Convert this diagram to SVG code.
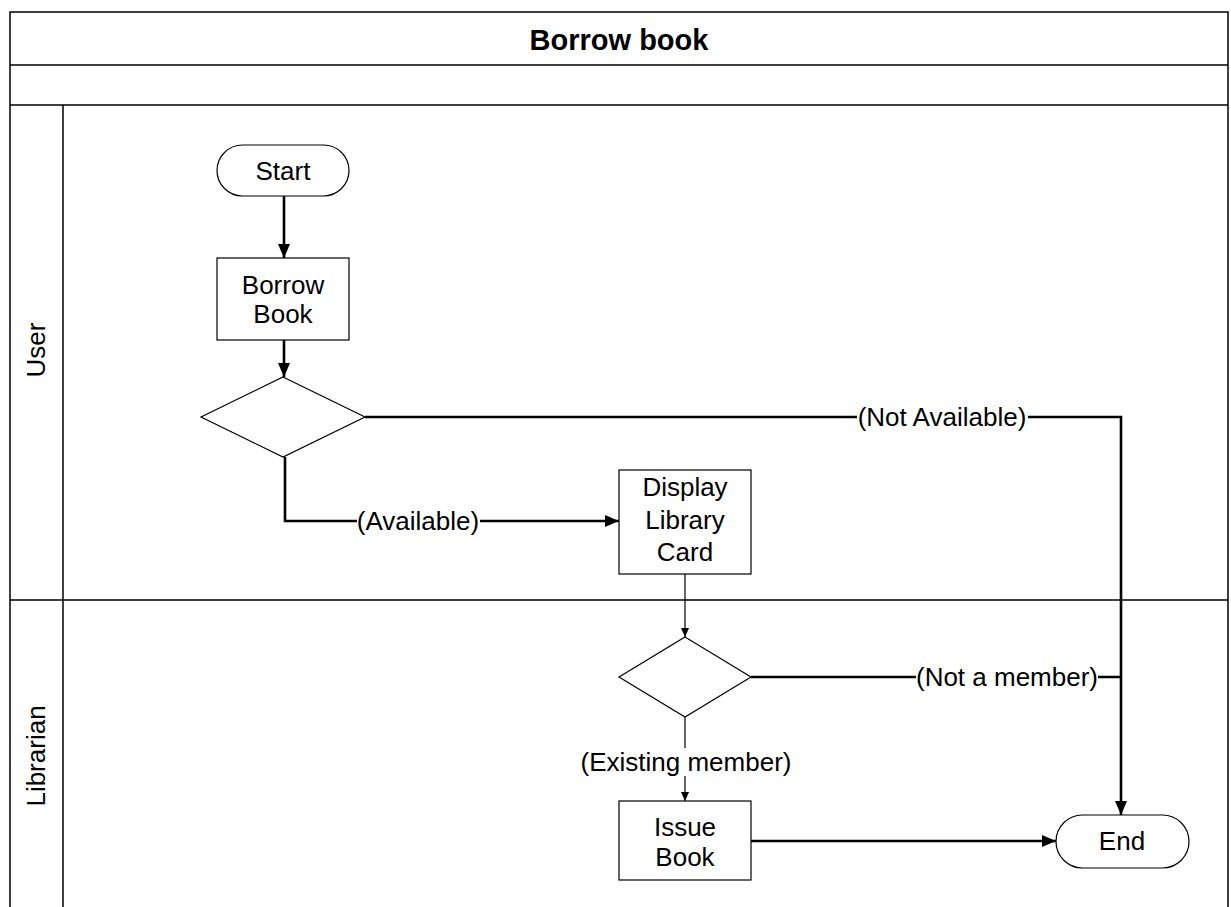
<svg xmlns="http://www.w3.org/2000/svg" width="1231" height="907" viewBox="0 0 1231 907">
<style>
.frame{fill:none;stroke:#000;stroke-width:1.5}
.shape{fill:#fff;stroke:#000;stroke-width:1.2}
.t{font-family:"Liberation Sans",Arial,sans-serif;font-size:26px;fill:#000;text-anchor:middle}
.title{font-family:"Liberation Sans",Arial,sans-serif;font-size:29px;font-weight:bold;fill:#000;text-anchor:middle}
.thick{fill:none;stroke:#000;stroke-width:2.6}
.thin{fill:none;stroke:#000;stroke-width:1.2}
.lbl{fill:#fff}
</style>
<defs>
<marker id="ah" markerWidth="14" markerHeight="12" refX="14" refY="6" orient="auto" markerUnits="userSpaceOnUse"><path d="M0,0 L14,6 L0,12 Z" fill="#000"/></marker>
<marker id="as" markerWidth="9" markerHeight="8" refX="9" refY="4" orient="auto" markerUnits="userSpaceOnUse"><path d="M0,0 L9,4 L0,8 Z" fill="#000"/></marker>
</defs>
<rect width="1231" height="907" fill="#fff"/>
<g id="pool">
<path class="frame" d="M10,907 V12 H1228 V907 M10,65 H1228 M10,105 H1228 M63,105 V907 M10,600 H1228"/>
<text class="title" x="619" y="50">Borrow book</text>
</g>
<g id="lane-user"><text class="t" transform="translate(45,350) rotate(-90)">User</text></g>
<g id="lane-librarian"><text class="t" transform="translate(45,756) rotate(-90)">Librarian</text></g>
<g id="connectors">
<path class="thick" d="M284,195 V258" marker-end="url(#ah)"/>
<path class="thick" d="M284,340 V377" marker-end="url(#ah)"/>
<path class="thick" d="M365,417 H1121 V815" marker-end="url(#ah)"/>
<path class="thick" d="M285,457 V521 H619" marker-end="url(#ah)"/>
<path class="thin" d="M685,574 V637" marker-end="url(#as)"/>
<path class="thick" d="M751,677 H1121"/>
<path class="thin" d="M685,717 V801" marker-end="url(#as)"/>
<path class="thick" d="M751,841 H1056" marker-end="url(#ah)"/>
<rect class="lbl" x="857" y="403" width="171" height="28"/>
<text class="t" x="942" y="426">(Not Available)</text>
<rect class="lbl" x="357" y="507" width="123" height="28"/>
<text class="t" x="418" y="530">(Available)</text>
<rect class="lbl" x="916" y="663" width="182" height="28"/>
<text class="t" x="1007" y="686">(Not a member)</text>
<rect class="lbl" x="580" y="748" width="211" height="28"/>
<text class="t" x="686" y="771">(Existing member)</text>
</g>
<g id="start"><rect class="shape" x="217" y="145" width="132" height="51" rx="25.5"/><text class="t" x="283" y="180">Start</text></g>
<g id="borrow-book"><rect class="shape" x="217" y="258" width="132" height="82"/><text class="t" x="283" y="294">Borrow</text><text class="t" x="283" y="323">Book</text></g>
<g id="decision-available"><polygon class="shape" points="283,377 365,417 283,457 201,417"/></g>
<g id="display-library-card"><rect class="shape" x="619" y="470" width="132" height="104"/><text class="t" x="685" y="496">Display</text><text class="t" x="685" y="529">Library</text><text class="t" x="685" y="561">Card</text></g>
<g id="decision-member"><polygon class="shape" points="685,637 751,677 685,717 619,677"/></g>
<g id="issue-book"><rect class="shape" x="619" y="801" width="132" height="79"/><text class="t" x="685" y="836">Issue</text><text class="t" x="685" y="866">Book</text></g>
<g id="end"><rect class="shape" x="1056" y="815" width="133" height="53" rx="26.5"/><text class="t" x="1122" y="850">End</text></g>
</svg>
